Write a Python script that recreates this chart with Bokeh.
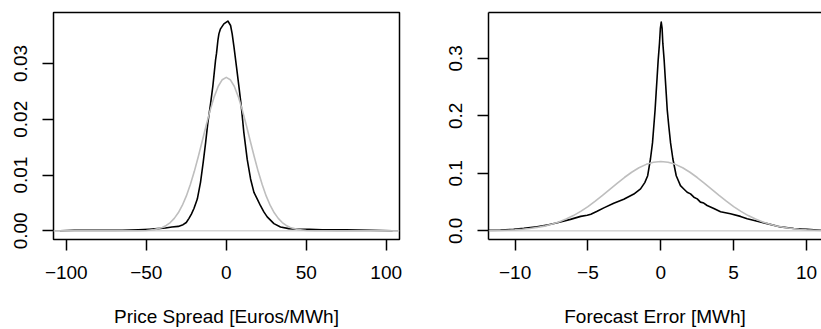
from bokeh.plotting import figure
from bokeh.models import Range1d, FixedTicker, CustomJSTickFormatter, Span, LinearAxis
from bokeh.layouts import row
from bokeh.embed import file_html
from bokeh.resources import INLINE

# ---------------- data: left panel (price spread) ----------------
spread_x = [-104, -95, -80, -65, -55, -48, -43, -38, -34, -30, -27, -25, -23.4, -21.8,
            -20.2, -18.1, -16.1, -14.4, -12.9, -11.5, -9.8, -8.4, -6.7, -6.1, -5.2, -4.6,
            -3.6, -1.5, 1.0, 2.7, 3.7, 4.8, 6.4, 7.9, 9.4, 11.0, 13.1, 15.2, 17.3, 19.4,
            21.4, 23.5, 25.6, 29.8, 33.9, 39.1, 45, 52, 60, 75, 90, 104]
spread_density = [0.0000, 0.0001, 0.0001, 0.0001, 0.0002, 0.0003, 0.0004, 0.0005, 0.0007,
                  0.0008, 0.0011, 0.0015, 0.0022, 0.0030, 0.0040, 0.0057, 0.0087, 0.0123,
                  0.0158, 0.0194, 0.0228, 0.0259, 0.0306, 0.0318, 0.0342, 0.0353, 0.0362,
                  0.0371, 0.0376, 0.0368, 0.0353, 0.0330, 0.0294, 0.0259, 0.0223, 0.0176,
                  0.0128, 0.0093, 0.0069, 0.0057, 0.0045, 0.0034, 0.0025, 0.0013, 0.0007,
                  0.0004, 0.0003, 0.0003, 0.0002, 0.0002, 0.0001, 0.0000]
spread_normal_x = [-108, -70, -60, -55, -50, -45, -40, -37.5, -35, -32.5, -30, -27.5, -25,
                   -22.5, -20, -17.5, -15, -12.5, -10, -7.5, -5, -2.5, 0, 2.5, 5, 7.5, 10,
                   12.5, 15, 17.5, 20, 22.5, 25, 27.5, 30, 32.5, 35, 37.5, 40, 45, 50, 55,
                   60, 70, 108]
spread_normal_y = [0.0, 0.0, 0.00001, 0.00002, 0.00007, 0.00022, 0.00061, 0.00097, 0.00149,
                   0.00223, 0.00323, 0.00455, 0.00622, 0.00825, 0.01062, 0.01328, 0.01610,
                   0.01896, 0.02168, 0.02406, 0.02591, 0.02709, 0.02750, 0.02709, 0.02591,
                   0.02406, 0.02168, 0.01896, 0.01610, 0.01328, 0.01062, 0.00825, 0.00622,
                   0.00455, 0.00323, 0.00223, 0.00149, 0.00097, 0.00061, 0.00022, 0.00007,
                   0.00002, 0.00001, 0.0, 0.0]
spread_xticks = [-100, -50, 0, 50, 100]
spread_yticks = [0.00, 0.01, 0.02, 0.03]

# ---------------- data: right panel (forecast error) ----------------
error_x = [-11.9, -11.0, -10.1, -9.4, -8.5, -7.7, -7.1, -6.2, -5.5, -5.05, -4.8, -4.37,
           -3.91, -3.23, -2.54, -1.85, -1.39, -1.1, -0.9, -0.71, -0.57, -0.48, -0.39,
           -0.32, -0.25, -0.18, -0.09, -0.03, 0.03, 0.09, 0.14, 0.23, 0.30, 0.37, 0.44,
           0.55, 0.67, 0.83, 1.06, 1.35, 1.58, 1.81, 2.04, 2.27, 2.50, 2.72, 2.95, 3.18,
           3.64, 4.10, 4.78, 5.47, 5.93, 6.62, 7.30, 8.22, 9.13, 10.05, 10.97, 11.9]
error_density = [0.0010, 0.0015, 0.0028, 0.0045, 0.0072, 0.0105, 0.0143, 0.0200, 0.0252,
                 0.0272, 0.0290, 0.0340, 0.0400, 0.0480, 0.0550, 0.0640, 0.0730, 0.0840,
                 0.0959, 0.1250, 0.153, 0.182, 0.211, 0.240, 0.268, 0.297, 0.326, 0.352,
                 0.363, 0.352, 0.326, 0.297, 0.268, 0.240, 0.211, 0.182, 0.153, 0.125,
                 0.0959, 0.0786, 0.0729, 0.0672, 0.0643, 0.0586, 0.0557, 0.0500, 0.0483,
                 0.0441, 0.0390, 0.0333, 0.0298, 0.0252, 0.0212, 0.0166, 0.0126, 0.0069,
                 0.0040, 0.0028, 0.0010, 0.0005]
error_normal_x = [-12, -11.5, -11, -10.5, -10, -9.5, -9, -8.5, -8, -7.5, -7, -6.5, -6, -5.5,
                  -5, -4.5, -4, -3.5, -3, -2.5, -2, -1.5, -1, -0.5, 0, 0.5, 1, 1.5, 2, 2.5,
                  3, 3.5, 4, 4.5, 5, 5.5, 6, 6.5, 7, 7.5, 8, 8.5, 9, 9.5, 10, 10.5, 11,
                  11.5, 12]
error_normal_y = [0.0003, 0.0005, 0.0007, 0.0012, 0.0018, 0.0027, 0.0040, 0.0058, 0.0082,
                  0.0114, 0.0154, 0.0205, 0.0266, 0.0339, 0.0422, 0.0516, 0.0616, 0.0721,
                  0.0827, 0.0928, 0.1020, 0.1098, 0.1157, 0.1194, 0.1207, 0.1194, 0.1157,
                  0.1098, 0.1020, 0.0928, 0.0827, 0.0721, 0.0616, 0.0516, 0.0422, 0.0339,
                  0.0266, 0.0205, 0.0154, 0.0114, 0.0082, 0.0058, 0.0040, 0.0027, 0.0018,
                  0.0012, 0.0007, 0.0005, 0.0003]
error_xticks = [-10, -5, 0, 5, 10]
error_yticks = [0.0, 0.1, 0.2, 0.3]

spread_label = "Price Spread [Euros/MWh]"
error_label = "Forecast Error [MWh]"

FONT = "Liberation Sans"
FS = "19px"
GRAY = "#BEBEBE"

minus_fmt = CustomJSTickFormatter(code="return tick < 0 ? '\\u2212' + Math.abs(tick) : String(tick);")


def style_axes(p, xaxis, yaxis, xticks, yticks, ydigits, xlabel):
    xaxis.ticker = FixedTicker(ticks=xticks)
    xaxis.formatter = minus_fmt
    yaxis.ticker = FixedTicker(ticks=yticks)
    yaxis.formatter = CustomJSTickFormatter(code="return tick.toFixed(%d);" % ydigits)
    for ax in (xaxis, yaxis):
        ax.major_tick_out = 11
        ax.major_tick_in = 0
        ax.minor_tick_line_color = None
        ax.major_tick_line_color = "black"
        ax.major_tick_line_width = 1.5
        ax.major_label_text_font = FONT
        ax.major_label_text_font_size = FS
        ax.major_label_text_color = "black"
    xaxis.major_label_standoff = 15
    yaxis.major_label_standoff = 15
    yaxis.major_label_orientation = "parallel"
    xaxis.axis_label = xlabel
    xaxis.axis_label_text_font = FONT
    xaxis.axis_label_text_font_size = FS
    xaxis.axis_label_text_font_style = "normal"
    xaxis.axis_label_text_color = "black"
    xaxis.axis_label_standoff = 24


# ---------------- left figure ----------------
p1 = figure(width=410, height=329,
            x_range=Range1d(-108.0, 108.3), y_range=Range1d(-0.00155, 0.03913),
            output_backend="svg", toolbar_location=None,
            min_border_left=53, min_border_right=11, min_border_top=12, min_border_bottom=88)
p1.grid.visible = False
p1.outline_line_color = "black"
p1.outline_line_width = 1.5
p1.background_fill_color = "white"
p1.border_fill_color = "white"
p1.xaxis.axis_line_color = None
p1.yaxis.axis_line_color = None
style_axes(p1, p1.xaxis[0], p1.yaxis[0], spread_xticks, spread_yticks, 2, spread_label)
p1.line(spread_x, spread_density, line_color="black", line_width=1.6, line_join="round")
p1.add_layout(Span(location=0, dimension="width", line_color=GRAY, line_width=1))
p1.line(spread_normal_x, spread_normal_y, line_color=GRAY, line_width=1.6, line_join="round")

# ---------------- right figure ----------------
p2 = figure(width=411, height=329,
            x_range=Range1d(-11.826, 11.03), y_range=Range1d(-0.0150, 0.3798),
            output_backend="svg", toolbar_location=None,
            min_border_left=78, min_border_right=0, min_border_top=12, min_border_bottom=88)
p2.grid.visible = False
p2.outline_line_color = None
p2.background_fill_color = "white"
p2.border_fill_color = "white"
p2.xaxis.axis_line_color = "black"
p2.xaxis.axis_line_width = 1.5
p2.yaxis.axis_line_color = "black"
p2.yaxis.axis_line_width = 1.5
style_axes(p2, p2.xaxis[0], p2.yaxis[0], error_xticks, error_yticks, 1, error_label)
top_axis = LinearAxis(ticker=FixedTicker(ticks=[]), major_tick_out=0, major_tick_in=0,
                      minor_tick_line_color=None, major_label_standoff=0,
                      major_label_text_font_size="0px", axis_line_color="black",
                      axis_line_width=1.5)
p2.add_layout(top_axis, "above")
p2.line(error_x, error_density, line_color="black", line_width=1.6, line_join="round")
p2.add_layout(Span(location=0, dimension="width", line_color=GRAY, line_width=1))
p2.line(error_normal_x, error_normal_y, line_color=GRAY, line_width=1.6, line_join="round")

layout = row(p1, p2)
open("out.html", "w", encoding="utf-8").write(file_html(layout, INLINE))
